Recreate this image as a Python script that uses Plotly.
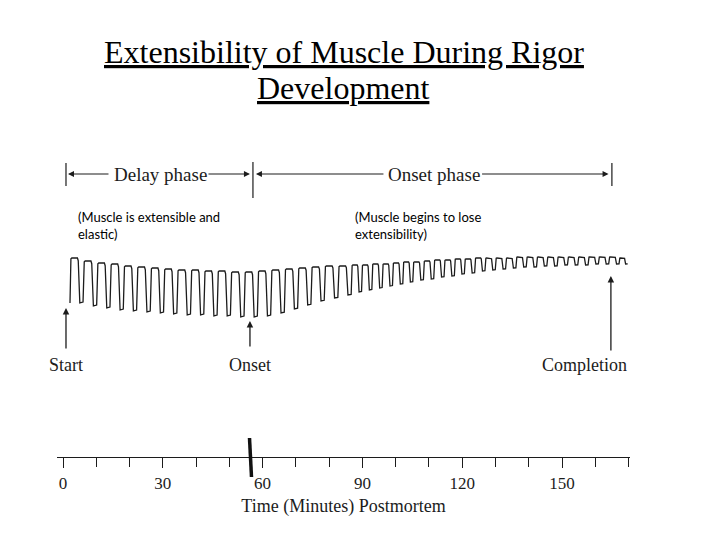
import plotly.graph_objects as go

# ---------------- data ----------------
# start time (minutes post-mortem) of each extension cycle of the trace
cycle_start_min = [2.1, 6.1, 10.2, 14.2, 18.2, 22.2, 26.3, 30.3, 34.3, 38.4,
                   42.4, 46.4, 50.4, 54.5, 58.5, 62.5, 66.6, 70.6, 74.6, 78.6,
                   82.7, 86.7, 89.8, 92.9, 96.0, 99.1, 102.2, 105.2, 108.4, 111.5,
                   114.6, 117.7, 120.7, 123.8, 126.9, 130.0, 133.1, 136.2, 139.3, 142.4,
                   145.5, 148.6, 151.7, 154.8, 157.9, 161.0, 164.1, 167.2]
trace_end_min = 169.8
# pen deflection (arbitrary units) at the top and bottom of each cycle
cycle_top = [72, 69, 67, 66, 64, 63, 62, 61, 60, 60,
             59, 59, 58, 58, 59, 60, 61, 62, 63, 64,
             64, 65, 65, 66, 66, 67, 68, 68, 69, 70,
             70, 71, 71, 72, 72, 72, 72, 73, 73, 73,
             73, 73, 73, 73, 73, 73, 73, 72]
cycle_bottom = [27, 24, 22, 20, 19, 18, 17, 16, 15, 15,
                14, 14, 13, 13, 14, 17, 21, 25, 29, 32,
                35, 38, 40, 42, 44, 46, 48, 50, 51, 53,
                54, 56, 57, 59, 60, 61, 62, 63, 63, 64,
                64, 65, 65, 65, 66, 66, 66, 66]

# phase boundaries (minutes)
start_min = 0.9
onset_min = 57.1
completion_min = 165.0
event_labels = ["Start", "Onset", "Completion"]
phase_labels = ["Delay phase", "Onset phase"]
phase_notes = ["(Muscle is extensible and<br>elastic)",
               "(Muscle begins to lose<br>extensibility)"]
title_lines = ["Extensibility of Muscle During Rigor", "Development"]
tick_major = [0, 30, 60, 90, 120, 150]

# ---------------- build trace path from cycles ----------------
xs, ys = [], []
bounds = cycle_start_min[1:] + [trace_end_min]
for i, (t0, t1) in enumerate(zip(cycle_start_min, bounds)):
    T, B = cycle_top[i], cycle_bottom[i]
    P = t1 - t0
    A = T - B
    f = 0.62
    if i == 0:
        xs.append(t0); ys.append(B)
    xs += [t0 + 0.03 * P, t0 + 0.07 * P, t0 + 0.14 * P,
           t0 + (f - 0.06) * P, t0 + f * P, t0 + (f + 0.03) * P,
           t0 + (f + 0.07) * P, t0 + (f + 0.12) * P, t1 - 0.02 * P]
    ys += [T - 0.12 * A, T - 0.02 * A, T,
           T, T - 0.06 * A, T - 0.3 * A,
           B + 0.05 * A, B, B + 0.02 * A]

fig = go.Figure()
fig.add_trace(go.Scatter(x=xs, y=ys, mode="lines",
                         line=dict(color="#1c1c1c", width=1.3),
                         hoverinfo="skip", showlegend=False))

# ---------------- layout helpers ----------------
L, R, T_, B_ = 57, 90, 0, 83
W, H = 720, 540
ph = H - T_ - B_
pw = W - L - R
px_per_min = (562 - 63) / 150.0
x0_min = (L - 63) / px_per_min
x1_min = (W - R - 63) / px_per_min


def py(p):  # pixel row -> paper y
    return (H - B_ - p) / ph


def xm(p):  # pixel column -> minutes
    return (p - 63) / px_per_min


SERIF = "Liberation Serif, Times New Roman, serif"
SANS = "Lato, Liberation Sans, sans-serif"
INK = "#1c1c1c"

ann = []
shapes = []

# title (two underlined lines)
for txt, row in zip(title_lines, [52, 88]):
    ann.append(dict(x=0.5, y=py(row), xref="paper", yref="paper", text=txt,
                    showarrow=False, xanchor="center", yanchor="middle",
                    font=dict(family=SERIF, size=32, color="#000",
                              lineposition="under")))

# phase bracket bars
for xmin, top, bot in [(start_min, 163, 186), (onset_min, 162, 198), (completion_min, 163, 186)]:
    shapes.append(dict(type="line", xref="x", yref="paper", x0=xmin, x1=xmin,
                       y0=py(bot), y1=py(top), line=dict(color=INK, width=1.2)))

# phase bracket arrows (tip, tail offset in px)
yb = py(174)
for tip, axp in [(start_min + 0.6, 42), (onset_min - 0.9, -43),
                 (onset_min + 0.9, 129), (completion_min - 1.0, -128)]:
    ann.append(dict(x=tip, y=yb, xref="x", yref="paper", text="", showarrow=True,
                    ax=axp, ay=0, arrowhead=2, arrowsize=1.0, arrowwidth=1.2,
                    arrowcolor=INK))
ann.append(dict(x=xm(160), y=yb, xref="x", yref="paper", text=phase_labels[0],
                showarrow=False, yanchor="middle",
                font=dict(family=SERIF, size=19, color=INK)))
ann.append(dict(x=xm(434), y=yb, xref="x", yref="paper", text=phase_labels[1],
                showarrow=False, yanchor="middle",
                font=dict(family=SERIF, size=19, color=INK)))

# notes
for txt, col in zip(phase_notes, [76, 353]):
    ann.append(dict(x=xm(col), y=py(207), xref="x", yref="paper",
                    text=txt, showarrow=False, xanchor="left", yanchor="top",
                    align="left", font=dict(family=SANS, size=13, color="#000")))

# event arrows and labels
for xmin, tip_px, tail_px, lab, lab_x in [
        (start_min, 308, 350, event_labels[0], xm(66)),
        (onset_min - 0.9, 321, 348, event_labels[1], xm(250)),
        (completion_min - 0.3, 276, 352, event_labels[2], xm(584))]:
    ann.append(dict(x=xmin, y=py(tip_px), xref="x", yref="paper", text="",
                    showarrow=True, ax=0, ay=tail_px - tip_px, arrowhead=2,
                    arrowsize=1.0, arrowwidth=1.3, arrowcolor=INK))
    ann.append(dict(x=lab_x, y=py(365), xref="x", yref="paper", text=lab,
                    showarrow=False, yanchor="middle",
                    font=dict(family=SERIF, size=18, color=INK)))

# dark scan mark near the 60-minute tick
shapes.append(dict(type="line", xref="paper", yref="paper",
                   x0=(249.5 - L) / pw, x1=(251.5 - L) / pw,
                   y0=py(438), y1=py(477), line=dict(color="#111", width=3.5)))

fig.update_layout(
    width=W, height=H,
    margin=dict(l=L, r=R, t=T_, b=B_),
    paper_bgcolor="white", plot_bgcolor="white",
    xaxis=dict(range=[x0_min, x1_min], showgrid=False, zeroline=False,
               showline=True, linecolor=INK, linewidth=1.3,
               tickmode="array", tickvals=tick_major,
               ticks="outside", ticklen=10, tickwidth=1.3, tickcolor=INK,
               minor=dict(dtick=10, tick0=0, ticks="outside", ticklen=9,
                          tickwidth=1.2, tickcolor=INK, showgrid=False),
               tickfont=dict(family=SERIF, size=17, color=INK),
               title=dict(text="Time (Minutes) Postmortem", standoff=7,
                          font=dict(family=SERIF, size=18, color=INK)),
               fixedrange=True),
    yaxis=dict(range=[-127, 330], visible=False, fixedrange=True),
    annotations=ann, shapes=shapes, showlegend=False,
)

fig.write_html("out.html", config={"displayModeBar": False},
               post_script="document.body.style.margin='0px';document.body.style.overflow='hidden';")
